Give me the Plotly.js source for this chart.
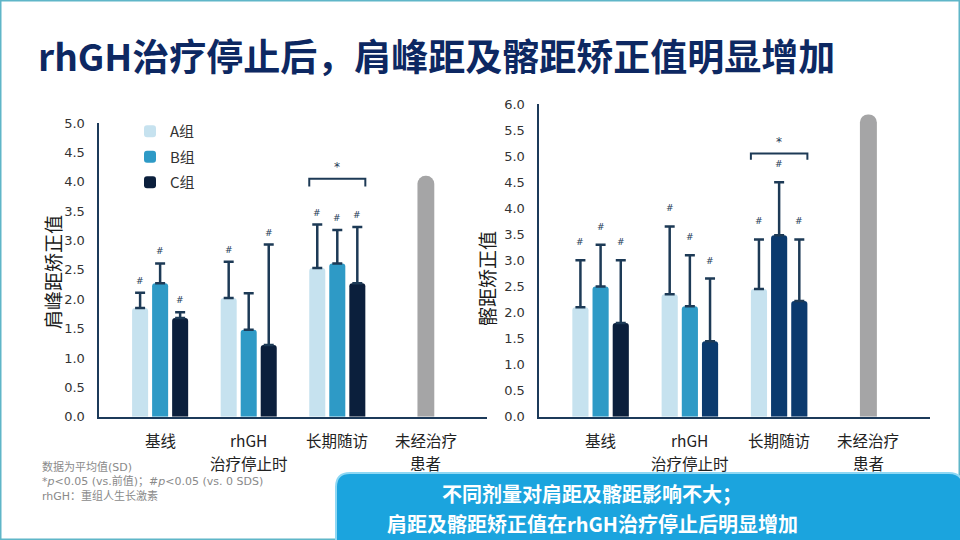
<!DOCTYPE html>
<html>
<head>
<meta charset="utf-8">
<script src="https://cdn.plot.ly/plotly-3.0.1.min.js"></script>
<style>
  html, body { margin: 0; padding: 0; background: #fff; }
  #chart { width: 960px; height: 540px; }
</style>
</head>
<body>
<div id="chart"></div>
<script>
// categories / tick labels
const categories = ["基线", "rhGH治疗停止时", "长期随访", "未经治疗患者"];
const tickLabels = ["基线", "rhGH<br>治疗停止时", "长期随访", "未经治疗<br>患者"];
const groupNames = ["A组", "B组", "C组"];

// 肩峰距矫正值 (left), mean and upper SD for the first three time points
const shoulderA = [1.85, 2.02, 2.53];
const shoulderB = [2.27, 1.48, 2.61];
const shoulderC = [1.68, 1.22, 2.27];
const shoulderSdA = [0.26, 0.62, 0.74];
const shoulderSdB = [0.34, 0.62, 0.57];
const shoulderSdC = [0.10, 1.71, 0.96];
const shoulderUntreated = [4.10];
const shoulderHashA = [true, true, true];
const shoulderHashB = [true, false, true];
const shoulderHashC = [true, true, true];
const shoulderBracket = 4.05;

// 髂距矫正值 (right)
const hipA = [2.10, 2.35, 2.45];
const hipB = [2.50, 2.12, 3.48];
const hipC = [1.80, 1.45, 2.22];
const hipSdA = [0.90, 1.30, 0.95];
const hipSdB = [0.80, 0.98, 1.02];
const hipSdC = [1.20, 1.20, 1.18];
const hipUntreated = [5.80];
const hipHashA = [true, true, true];
const hipHashB = [true, true, true];
const hipHashC = [true, true, true];
const hipBracket = 5.05;

// styles
const LIGHT = "#c6e2ef", MID = "#2e9ac6", DARK = "#0b1f3c", NAVY = "#0b3a6e";
const GRAY = "#a5a5a6", ERR = "#1d3a56", AXIS = "#1c3a5a";
const STEP = 0.226, BARW = 0.181;
const CJK = "Noto Sans CJK SC";

function bars(name, values, sds, color, slot, xa, ya, legend) {
  return {
    type: "bar", name: name, legendgroup: name, showlegend: legend,
    x: categories.slice(0, values.length), y: values,
    xaxis: xa, yaxis: ya,
    width: BARW, offset: slot * STEP - BARW / 2,
    marker: { color: color, cornerradius: 3 },
    error_y: {
      type: "data", symmetric: false, array: sds,
      arrayminus: sds.map(() => 0),
      color: ERR, thickness: 2.5, width: 5,
    },
    hoverinfo: "skip",
  };
}

function gray(values, xa, ya) {
  return {
    type: "bar", showlegend: false,
    x: [categories[3]], y: values, xaxis: xa, yaxis: ya,
    width: 0.19, offset: -0.095,
    marker: { color: GRAY, cornerradius: 8 },
    hoverinfo: "skip",
  };
}

const data = [
  bars(groupNames[0], shoulderA, shoulderSdA, LIGHT, -1, "x", "y", true),
  bars(groupNames[1], shoulderB, shoulderSdB, MID, 0, "x", "y", true),
  bars(groupNames[2], shoulderC, shoulderSdC, DARK, 1, "x", "y", true),
  gray(shoulderUntreated, "x", "y"),
  bars(groupNames[0], hipA, hipSdA, LIGHT, -1, "x2", "y2", false),
  bars(groupNames[1], hipB, hipSdB, [MID, MID, NAVY], 0, "x2", "y2", false),
  bars(groupNames[2], hipC, hipSdC, [DARK, NAVY, NAVY], 1, "x2", "y2", false),
  gray(hipUntreated, "x2", "y2"),
];

const px = (v) => v / 960, py = (v) => (540 - v) / 540;

// "#" marks above the error bars
const annotations = [];
function hashes(means, sds, flags, slot, xa, ya, shift) {
  means.forEach((m, i) => {
    if (!flags[i]) return;
    annotations.push({
      xref: xa, yref: ya, x: i + slot * STEP, y: m + sds[i],
      text: "#", showarrow: false, xanchor: "center", yanchor: "middle", yshift: shift,
      font: { family: "DejaVu Sans", size: 9, color: ERR },
    });
  });
}
hashes(shoulderA, shoulderSdA, shoulderHashA, -1, "x", "y", 12);
hashes(shoulderB, shoulderSdB, shoulderHashB, 0, "x", "y", 12);
hashes(shoulderC, shoulderSdC, shoulderHashC, 1, "x", "y", 12);
hashes(hipA, hipSdA, hipHashA, -1, "x2", "y2", 18);
hashes(hipB, hipSdB, hipHashB, 0, "x2", "y2", 18);
hashes(hipC, hipSdC, hipHashC, 1, "x2", "y2", 18);

// category labels under each x axis, one line per text so lines keep their spacing
function catLabels(xa) {
  tickLabels.forEach((lab, i) => {
    lab.split("<br>").forEach((line, k) => {
      annotations.push({
        xref: xa, yref: "paper", x: i, y: py(427 + k * 22.5),
        xanchor: "center", yanchor: "top", showarrow: false, text: line,
        font: { family: CJK, size: 15.5, color: "#222" },
      });
    });
  });
}
catLabels("x");
catLabels("x2");

// significance bracket over 长期随访
const shapes = [];
function bracket(yv, leg, xa, ya) {
  const x0 = 2 - STEP - BARW / 2, x1 = 2 + STEP + BARW / 2;
  shapes.push({
    type: "path", xref: xa, yref: ya,
    path: `M${x0},${yv - leg} L${x0},${yv} L${x1},${yv} L${x1},${yv - leg}`,
    line: { color: ERR, width: 2 },
  });
  annotations.push({
    xref: xa, yref: ya, x: 2, y: yv, text: "*", showarrow: false,
    xanchor: "center", yanchor: "bottom", yshift: 3,
    font: { family: "DejaVu Sans", size: 12, color: ERR },
  });
}
bracket(shoulderBracket, 0.13, "x", "y");
bracket(hipBracket, 0.12, "x2", "y2");

// page frame
shapes.push({
  type: "rect", xref: "paper", yref: "paper", x0: 0, x1: 1, y0: 0, y1: 1,
  line: { color: "#5fb6c8", width: 3 }, layer: "below",
});

// blue conclusion box with rounded corners
(function () {
  const W = 960, H = 540, r = 14;
  const x0 = 336 / W, x1 = 963 / W, y0 = -10 / H, y1 = (H - 473) / H;
  const rx = r / W, ry = r / H;
  shapes.push({
    type: "path", xref: "paper", yref: "paper",
    path: `M${x0},${y0} L${x0},${y1 - ry} Q${x0},${y1} ${x0 + rx},${y1}` +
      ` L${x1 - rx},${y1} Q${x1},${y1} ${x1},${y1 - ry} L${x1},${y0} Z`,
    fillcolor: "#1ba4de", line: { color: "#8fd8f4", width: 2 },
  });
})();

annotations.push(
  {
    xref: "paper", yref: "paper", x: px(36), y: py(55), xanchor: "left", yanchor: "middle",
    text: "<b>rhGH治疗停止后，肩峰距及髂距矫正值明显增加</b>", showarrow: false,
    font: { family: CJK, size: 37, color: "#0d2862" },
  },
  {
    xref: "paper", yref: "paper", x: px(52), y: py(272), textangle: -90,
    xanchor: "center", yanchor: "middle",
    text: "肩峰距矫正值", showarrow: false,
    font: { family: CJK, size: 19, color: "#1a1a1a" },
  },
  {
    xref: "paper", yref: "paper", x: px(487), y: py(279), textangle: -90,
    xanchor: "center", yanchor: "middle",
    text: "髂距矫正值", showarrow: false,
    font: { family: CJK, size: 19, color: "#1a1a1a" },
  },
  {
    xref: "paper", yref: "paper", x: px(40), y: py(458), xanchor: "left", yanchor: "top",
    align: "left", showarrow: false,
    text: "数据为平均值(SD)<br>*<i>p</i>&lt;0.05 (vs.前值)；#<i>p</i>&lt;0.05 (vs. 0 SDS)<br>rhGH：重组人生长激素",
    font: { family: "DejaVu Sans, " + CJK, size: 11, color: "#8a8a8a" },
  },
  {
    xref: "paper", yref: "paper", x: px(592), y: py(493), showarrow: false,
    xanchor: "center", yanchor: "middle",
    text: "<b>不同剂量对肩距及髂距影响不大；</b>",
    font: { family: CJK, size: 20, color: "#ffffff" },
  },
  {
    xref: "paper", yref: "paper", x: px(592), y: py(523), showarrow: false,
    xanchor: "center", yanchor: "middle",
    text: "<b>肩距及髂距矫正值在rhGH治疗停止后明显增加</b>",
    font: { family: CJK, size: 20, color: "#ffffff" },
  }
);

function xAxis(domain) {
  return {
    domain: domain, type: "category", categoryarray: categories,
    range: [-0.69, 3.69], showticklabels: false,
    showline: true, linecolor: AXIS, linewidth: 2.5, showgrid: false,
    zeroline: false, ticks: "",
  };
}
function yAxis(domain, top, anchor) {
  return {
    domain: domain, range: [0, top], dtick: 0.5, tickformat: ".1f",
    anchor: anchor, showline: true, linecolor: AXIS, linewidth: 2.5,
    showgrid: false, zeroline: false, ticks: "", ticklabelstandoff: 9,
    tickfont: { family: "DejaVu Sans", size: 13, color: "#333" },
  };
}

const layout = {
  width: 960, height: 540,
  margin: { l: 0, r: 0, t: 0, b: 0 },
  paper_bgcolor: "#ffffff", plot_bgcolor: "rgba(0,0,0,0)",
  barmode: "overlay", showlegend: true,
  xaxis: xAxis([px(99), px(487)]),
  yaxis: yAxis([py(416.7), py(123)], 5, "x"),
  xaxis2: Object.assign(xAxis([px(539), px(930)]), { anchor: "y2" }),
  yaxis2: yAxis([py(416.7), py(104)], 6, "x2"),
  legend: {
    x: px(130), y: py(115), xanchor: "left", yanchor: "top",
    traceorder: "grouped", tracegroupgap: 3, bgcolor: "rgba(0,0,0,0)",
    font: { family: CJK, size: 15, color: "#333" },
  },
  shapes: shapes,
  annotations: annotations,
};

Plotly.newPlot("chart", data, layout, { staticPlot: true });
</script>
</body>
</html>
